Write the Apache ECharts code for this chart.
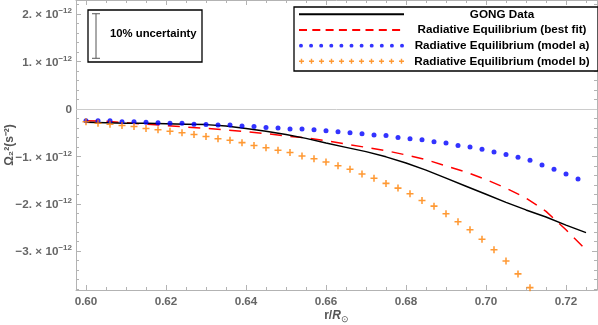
<!DOCTYPE html>
<html>
<head>
<meta charset="utf-8">
<script src="https://cdn.jsdelivr.net/npm/echarts@6/dist/echarts.min.js"></script>
<style>
  html, body { margin: 0; padding: 0; background: #fff; }
  #chart { width: 598px; height: 325px; }
</style>
</head>
<body>
<div id="chart"></div>
<script>
// values in units of 1e-12 s^-2
const lineX = [0.600, 0.605, 0.610, 0.615, 0.620, 0.625, 0.630, 0.635, 0.640, 0.645,
  0.650, 0.655, 0.660, 0.665, 0.670, 0.675, 0.680, 0.685, 0.690, 0.695,
  0.700, 0.705, 0.710, 0.715, 0.720, 0.725];
const gongData = [-0.28, -0.29, -0.30, -0.30, -0.31, -0.32, -0.33, -0.36, -0.41, -0.47,
  -0.54, -0.62, -0.72, -0.81, -0.90, -1.01, -1.14, -1.29, -1.46, -1.63,
  -1.80, -1.97, -2.13, -2.28, -2.45, -2.61];
const bestFit = [-0.25, -0.26, -0.29, -0.32, -0.35, -0.38, -0.41, -0.44, -0.48, -0.52,
  -0.57, -0.61, -0.67, -0.74, -0.81, -0.88, -0.97, -1.07, -1.20, -1.33,
  -1.49, -1.67, -1.88, -2.16, -2.55, -2.97];

const markerX = [0.600, 0.603, 0.606, 0.609, 0.612, 0.615, 0.618, 0.621, 0.624, 0.627,
  0.630, 0.633, 0.636, 0.639, 0.642, 0.645, 0.648, 0.651, 0.654, 0.657,
  0.660, 0.663, 0.666, 0.669, 0.672, 0.675, 0.678, 0.681, 0.684, 0.687,
  0.690, 0.693, 0.696, 0.699, 0.702, 0.705, 0.708, 0.711, 0.714, 0.717,
  0.720, 0.723];
const modelA = [-0.25, -0.25, -0.25, -0.27, -0.27, -0.28, -0.29, -0.30, -0.30, -0.32,
  -0.33, -0.34, -0.34, -0.36, -0.37, -0.39, -0.40, -0.42, -0.42, -0.44,
  -0.46, -0.48, -0.50, -0.52, -0.55, -0.56, -0.60, -0.63, -0.65, -0.69,
  -0.72, -0.77, -0.80, -0.85, -0.91, -0.96, -1.02, -1.08, -1.18, -1.27,
  -1.37, -1.48];
const modelB = [-0.27, -0.30, -0.32, -0.35, -0.37, -0.41, -0.44, -0.47, -0.50, -0.54,
  -0.58, -0.63, -0.66, -0.71, -0.77, -0.82, -0.87, -0.92, -0.99, -1.05,
  -1.12, -1.20, -1.27, -1.37, -1.46, -1.57, -1.67, -1.79, -1.93, -2.05,
  -2.21, -2.38, -2.55, -2.75, -2.97, -3.21, -3.48, -3.77];

// error bar in the inset box: [x, low, high]
const uncertaintyBar = [[0.6025, 1.07, 2.01]];

const xMajor = [0.60, 0.62, 0.64, 0.66, 0.68, 0.70, 0.72];
const xMinor = [0.605, 0.61, 0.615, 0.625, 0.63, 0.635, 0.645, 0.65, 0.655, 0.665, 0.67, 0.675,
  0.685, 0.69, 0.695, 0.705, 0.71, 0.715, 0.725];
const yMajor = [-3, -2, -1, 0, 1, 2];
const yMinor = [-3.8, -3.6, -3.4, -3.2, -2.8, -2.6, -2.4, -2.2, -1.8, -1.6, -1.4, -1.2,
  -0.8, -0.6, -0.4, -0.2, 0.2, 0.4, 0.6, 0.8, 1.2, 1.4, 1.6, 1.8, 2.2];

const seriesNames = ['GONG Data', 'Radiative Equilibrium (best fit)',
  'Radiative Equilibrium (model a)', 'Radiative Equilibrium (model b)'];

const X_MIN = 0.5975, X_MAX = 0.72775;
const Y_MIN = -3.82, Y_MAX = 2.30;
const FONT = '"Liberation Sans", Arial, sans-serif';
const AXIS_GRAY = '#b3b3b3';
const LABEL_GRAY = '#666';
const BLUE = '#0000ff';
const ORANGE = '#ff8000';

const PLUS_PATH = 'path://M0,3.9H10V6.1H0Z M3.9,0H6.1V10H3.9Z';

function dotsRow() {
  let p = '';
  for (let k = 0; k < 11; k++) {
    const cx = 2 + k * 10.2;
    p += 'M' + (cx - 2) + ',2a2,2 0 1,0 4,0a2,2 0 1,0 -4,0Z';
  }
  return 'path://' + p;
}
function plusRow() {
  let p = '';
  for (let k = 0; k < 11; k++) {
    const cx = 2.5 + k * 10;
    p += 'M' + (cx - 2.5) + ',1.8h5v1.4h-5Z';
    p += 'M' + (cx - 0.7) + ',0h1.4v5h-1.4Z';
  }
  return 'path://' + p;
}

function yLabel(v) {
  if (Math.abs(v) < 1e-9) return '{m|0}';
  const sign = v < 0 ? '\u2212' : '';
  return '{m|' + sign + Math.abs(v) + '. \u00d7 10}{s|\u221212}';
}

function frameAxis(kind, position, ticks, len, withLine, withLabel) {
  const ax = {
    type: 'value',
    position: position,
    min: kind === 'x' ? X_MIN : Y_MIN,
    max: kind === 'x' ? X_MAX : Y_MAX,
    axisLine: { show: withLine, onZero: false, lineStyle: { color: AXIS_GRAY, width: 1 } },
    axisTick: { show: true, inside: true, length: len, customValues: ticks,
      lineStyle: { color: AXIS_GRAY, width: 1 } },
    axisLabel: { show: false },
    splitLine: { show: false }
  };
  if (withLabel) {
    ax.axisLabel = {
      show: true,
      customValues: ticks,
      color: LABEL_GRAY,
      fontFamily: FONT,
      fontSize: 11.7,
      fontWeight: 'bold'
    };
  }
  return ax;
}

const chart = echarts.init(document.getElementById('chart'), null, { renderer: 'canvas' });

const xAxes = [
  frameAxis('x', 'bottom', xMajor, 5, true, true),
  frameAxis('x', 'bottom', xMinor, 3, false, false),
  frameAxis('x', 'top', xMajor, 5, true, false),
  frameAxis('x', 'top', xMinor, 3, false, false)
];
xAxes[0].axisLabel.margin = 6;
xAxes[0].axisLabel.formatter = (v) => v.toFixed(2);
xAxes[0].name = '{a|r/}{b|R}{c|\u2299}';
xAxes[0].nameLocation = 'middle';
xAxes[0].nameGap = 18;
xAxes[0].nameMoveOverlap = false;
xAxes[0].nameTextStyle = {
  rich: {
    a: { fontFamily: FONT, fontSize: 12, color: '#555', fontWeight: 'bold', lineHeight: 16, verticalAlign: 'middle' },
    b: { fontFamily: FONT, fontSize: 12, color: '#555', fontStyle: 'italic', fontWeight: 'bold', lineHeight: 16, verticalAlign: 'middle' },
    c: { fontFamily: FONT, fontSize: 9, color: '#555', lineHeight: 8, verticalAlign: 'bottom' }
  }
};

const yAxes = [
  frameAxis('y', 'left', yMajor, 5, true, true),
  frameAxis('y', 'left', yMinor, 3, false, false),
  frameAxis('y', 'right', yMajor, 5, true, false),
  frameAxis('y', 'right', yMinor, 3, false, false)
];
yAxes[0].axisLabel.margin = 4;
yAxes[0].axisLabel.formatter = yLabel;
yAxes[0].axisLabel.rich = {
  m: { fontFamily: FONT, fontSize: 11.7, fontWeight: 'bold', color: LABEL_GRAY, lineHeight: 14, verticalAlign: 'bottom' },
  s: { fontFamily: FONT, fontSize: 8, fontWeight: 'bold', color: LABEL_GRAY, lineHeight: 9, verticalAlign: 'top' }
};
yAxes[0].name = '\u03a9\u2082\u00b2(s\u207b\u00b2)';
yAxes[0].nameLocation = 'middle';
yAxes[0].nameGap = 60;
yAxes[0].nameMoveOverlap = false;
yAxes[0].nameTextStyle = { fontFamily: FONT, fontSize: 12, color: '#555', fontWeight: 'bold' };

const hiddenSymbol = { color: 'transparent', borderWidth: 0, opacity: 0 };

chart.setOption({
  animation: false,
  backgroundColor: '#fff',
  grid: { left: 76, right: 1, top: 0, bottom: 35, containLabel: false, outerBoundsMode: 'none' },
  xAxis: xAxes,
  yAxis: yAxes,
  legend: {
    orient: 'vertical',
    left: 294,
    top: 7,
    padding: [1.3, 3, 3.7, 4],
    itemWidth: 105,
    itemHeight: 14,
    itemGap: 3.67,
    borderColor: '#000',
    borderWidth: 1.3,
    backgroundColor: '#fff',
    selectedMode: false,
    formatter: (name) => '{t|' + name + '}',
    textStyle: {
      rich: {
        t: { width: 186, align: 'center', fontFamily: FONT, fontSize: 11.7, fontWeight: 'bold', color: '#000', lineHeight: 14 }
      }
    },
    data: [
      { name: seriesNames[0], itemStyle: hiddenSymbol },
      { name: seriesNames[1], itemStyle: hiddenSymbol, lineStyle: { type: [8, 5.3] } },
      { name: seriesNames[2], icon: dotsRow() },
      { name: seriesNames[3], icon: plusRow() }
    ]
  },
  graphic: [
    {
      type: 'rect',
      z: 40,
      shape: { x: 88, y: 10, width: 114, height: 52 },
      style: { fill: '#fff', stroke: '#000', lineWidth: 1.3 }
    },
    {
      type: 'text',
      z: 60,
      x: 110,
      y: 34,
      style: { text: '10% uncertainty', fill: '#000', font: 'bold 11.3px ' + FONT, verticalAlign: 'middle' }
    }
  ],
  series: [
    {
      name: seriesNames[0],
      type: 'line',
      data: lineX.map((x, i) => [x, gongData[i]]),
      symbol: 'none',
      z: 5,
      lineStyle: { color: '#000', width: 1.5 },
      itemStyle: { color: '#000' },
      markLine: {
        silent: true,
        symbol: 'none',
        label: { show: false },
        lineStyle: { color: '#cccccc', width: 1, type: 'solid' },
        data: [{ yAxis: 0 }]
      }
    },
    {
      name: seriesNames[1],
      type: 'line',
      data: lineX.map((x, i) => [x, bestFit[i]]),
      symbol: 'none',
      z: 4,
      lineStyle: { color: '#ff0000', width: 1.5, type: [12, 8.5] },
      itemStyle: { color: '#ff0000' }
    },
    {
      name: seriesNames[2],
      type: 'scatter',
      data: markerX.slice(0, modelA.length).map((x, i) => [x, modelA[i]]),
      symbol: 'circle',
      symbolSize: 5,
      z: 6,
      itemStyle: { color: BLUE }
    },
    {
      name: seriesNames[3],
      type: 'scatter',
      data: markerX.slice(0, modelB.length).map((x, i) => [x, modelB[i]]),
      symbol: PLUS_PATH,
      symbolSize: 7,
      z: 6,
      itemStyle: { color: ORANGE }
    },
    {
      name: 'uncertainty',
      type: 'custom',
      z: 50,
      silent: true,
      clip: false,
      data: uncertaintyBar,
      renderItem: function (params, api) {
        const lo = api.coord([api.value(0), api.value(1)]);
        const hi = api.coord([api.value(0), api.value(2)]);
        const half = 4;
        const st = { stroke: '#555', lineWidth: 1 };
        return {
          type: 'group',
          children: [
            { type: 'line', shape: { x1: lo[0], y1: lo[1], x2: hi[0], y2: hi[1] }, style: st },
            { type: 'line', shape: { x1: lo[0] - half, y1: lo[1], x2: lo[0] + half, y2: lo[1] }, style: st },
            { type: 'line', shape: { x1: hi[0] - half, y1: hi[1], x2: hi[0] + half, y2: hi[1] }, style: st }
          ]
        };
      }
    }
  ]
});

window.addEventListener('resize', () => chart.resize());
</script>
</body>
</html>
